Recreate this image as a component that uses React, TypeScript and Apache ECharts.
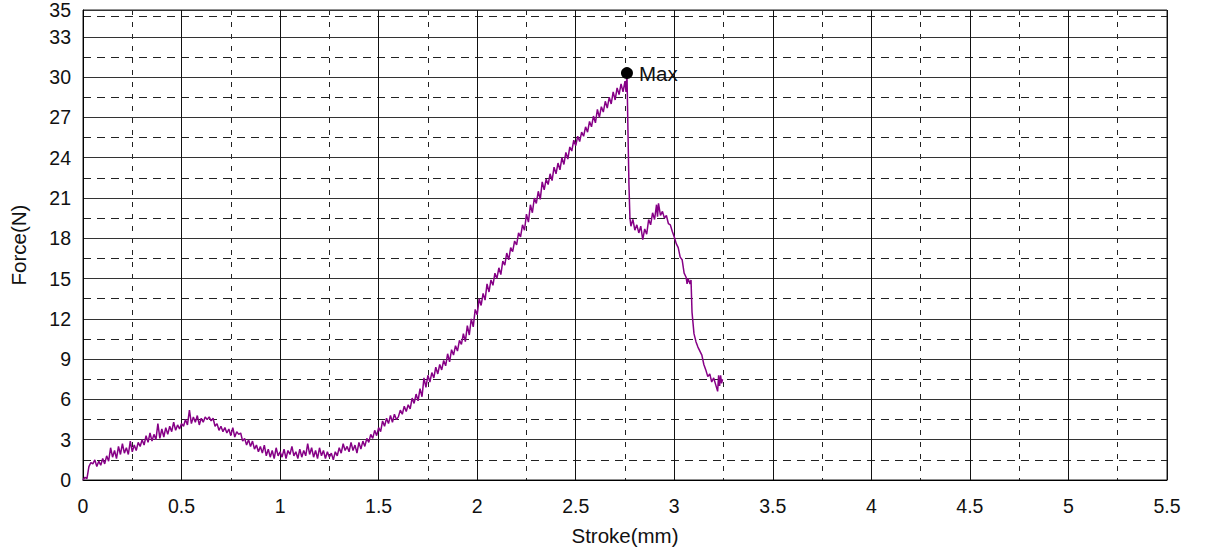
import React, { useEffect, useRef } from "react";
import * as echarts from "echarts";

const strokeMm = [
  0, 0.01, 0.02, 0.03, 0.04, 0.05, 0.06, 0.07, 0.08, 0.09,
  0.1, 0.11, 0.12, 0.13, 0.14, 0.15, 0.16, 0.17, 0.18, 0.19,
  0.2, 0.21, 0.22, 0.23, 0.24, 0.25, 0.26, 0.27, 0.28, 0.29,
  0.3, 0.31, 0.32, 0.33, 0.34, 0.35, 0.36, 0.37, 0.38, 0.39,
  0.4, 0.41, 0.42, 0.43, 0.44, 0.45, 0.46, 0.47, 0.48, 0.49,
  0.5, 0.51, 0.52, 0.53, 0.54, 0.55, 0.56, 0.57, 0.58, 0.59,
  0.6, 0.61, 0.62, 0.63, 0.64, 0.65, 0.66, 0.67, 0.68, 0.69,
  0.7, 0.71, 0.72, 0.73, 0.74, 0.75, 0.76, 0.77, 0.78, 0.79,
  0.8, 0.81, 0.82, 0.83, 0.84, 0.85, 0.86, 0.87, 0.88, 0.89,
  0.9, 0.91, 0.92, 0.93, 0.94, 0.95, 0.96, 0.97, 0.98, 0.99,
  1.0, 1.01, 1.02, 1.03, 1.04, 1.05, 1.06, 1.07, 1.08, 1.09,
  1.1, 1.11, 1.12, 1.13, 1.14, 1.15, 1.16, 1.17, 1.18, 1.19,
  1.2, 1.21, 1.22, 1.23, 1.24, 1.25, 1.26, 1.27, 1.28, 1.29,
  1.3, 1.31, 1.32, 1.33, 1.34, 1.35, 1.36, 1.37, 1.38, 1.39,
  1.4, 1.41, 1.42, 1.43, 1.44, 1.45, 1.46, 1.47, 1.48, 1.49,
  1.5, 1.51, 1.52, 1.53, 1.54, 1.55, 1.56, 1.57, 1.58, 1.59,
  1.6, 1.61, 1.62, 1.63, 1.64, 1.65, 1.66, 1.67, 1.68, 1.69,
  1.7, 1.71, 1.72, 1.73, 1.74, 1.75, 1.76, 1.77, 1.78, 1.79,
  1.8, 1.81, 1.82, 1.83, 1.84, 1.85, 1.86, 1.87, 1.88, 1.89,
  1.9, 1.91, 1.92, 1.93, 1.94, 1.95, 1.96, 1.97, 1.98, 1.99,
  2.0, 2.01, 2.02, 2.03, 2.04, 2.05, 2.06, 2.07, 2.08, 2.09,
  2.1, 2.11, 2.12, 2.13, 2.14, 2.15, 2.16, 2.17, 2.18, 2.19,
  2.2, 2.21, 2.22, 2.23, 2.24, 2.25, 2.26, 2.27, 2.28, 2.29,
  2.3, 2.31, 2.32, 2.33, 2.34, 2.35, 2.36, 2.37, 2.38, 2.39,
  2.4, 2.41, 2.42, 2.43, 2.44, 2.45, 2.46, 2.47, 2.48, 2.49,
  2.5, 2.51, 2.52, 2.53, 2.54, 2.55, 2.56, 2.57, 2.58, 2.59,
  2.6, 2.61, 2.62, 2.63, 2.64, 2.65, 2.66, 2.67, 2.68, 2.69,
  2.7, 2.71, 2.72, 2.73, 2.74, 2.75, 2.755, 2.76,
  2.765, 2.77, 2.775, 2.78, 2.79, 2.8, 2.81, 2.82, 2.83, 2.84,
  2.85, 2.86, 2.87, 2.88, 2.89, 2.9, 2.91, 2.915, 2.92, 2.93,
  2.94, 2.95, 2.96, 2.97, 2.98, 2.99, 3.0, 3.01, 3.02, 3.03,
  3.04, 3.05, 3.06, 3.065, 3.07, 3.08, 3.085, 3.09, 3.1, 3.11,
  3.12, 3.13, 3.14, 3.15, 3.16, 3.17, 3.18, 3.19, 3.2, 3.21,
  3.22, 3.225, 3.23, 3.235, 3.24, 3.245,
];

const forceN = [
  0, 0.2, 0.1, 1.0, 1.3, 1.2, 1.5, 1.0, 1.4, 1.1,
  1.6, 1.2, 1.8, 1.4, 2.4, 1.7, 2.2, 1.6, 2.5, 1.9,
  2.7, 2.0, 2.4, 1.9, 2.9, 2.1, 2.6, 2.2, 2.8, 2.5,
  3.0, 2.6, 3.3, 2.8, 3.5, 2.9, 3.4, 3.0, 4.2, 3.1,
  3.8, 3.2, 3.9, 3.4, 4.0, 3.6, 4.3, 3.7, 4.1, 3.8,
  4.2, 4.0, 4.5, 4.1, 5.2, 4.2, 4.7, 4.3, 4.8, 4.1,
  4.6, 4.3, 4.7, 4.5, 4.7, 4.4, 4.6, 4.0, 4.2, 3.7,
  4.0, 3.6, 3.9, 3.5, 3.8, 3.3, 3.9, 3.2, 3.6, 3.4,
  3.5, 2.9, 3.1, 2.6, 3.0, 2.5, 2.9, 2.3, 2.6, 2.1,
  2.5, 2.0, 2.6, 1.8, 2.3, 1.7, 2.2, 1.6, 2.4, 1.8,
  2.1, 1.7, 2.3, 1.6, 2.2, 1.9, 2.5, 1.8, 2.1, 1.6,
  2.3, 1.7, 2.2, 1.8, 2.7, 1.9, 2.4, 1.7, 2.2, 1.6,
  2.4, 1.8, 2.2, 1.6, 2.1, 1.7, 2.0, 1.5, 2.1, 1.8,
  2.4, 2.0, 2.7, 2.2, 2.5, 2.1, 2.8, 2.2, 2.6, 2.0,
  2.8, 2.3, 2.9, 2.5, 3.1, 2.8, 3.4, 3.1, 3.7, 3.3,
  3.9, 3.6, 4.4, 4.0, 4.6, 4.2, 4.8, 4.3, 4.9, 4.5,
  4.7, 5.2, 4.9, 5.5, 5.1, 5.6, 5.3, 6.1, 5.7, 6.4,
  5.9, 6.8, 6.2, 7.6, 6.9, 7.8, 7.3, 8.0, 7.6, 8.4,
  7.9, 8.6, 8.2, 8.9, 8.5, 9.4, 8.8, 9.7, 9.3, 10.0,
  9.6, 10.4, 10.1, 10.9, 10.3, 11.5, 10.8, 12.0, 11.4, 12.7,
  12.3, 13.5, 13.0, 13.9, 13.4, 14.6, 14.0, 14.9, 14.5, 15.4,
  15.0, 15.8, 15.3, 16.3, 16.0, 16.9, 16.4, 17.3, 17.0, 17.8,
  17.5, 18.4, 18.1, 19.0, 18.6, 19.8, 19.2, 20.5, 19.9, 21.0,
  20.6, 21.5, 20.9, 22.2, 21.6, 22.4, 22.0, 22.8, 22.3, 23.3,
  22.8, 23.6, 23.1, 24.0, 23.5, 24.4, 23.9, 24.8, 24.5, 25.3,
  24.9, 25.6, 25.2, 25.9, 25.6, 26.3, 25.9, 26.7, 26.3, 27.1,
  26.6, 27.6, 27.0, 27.8, 27.4, 28.2, 27.7, 28.5, 28.0, 28.9,
  28.3, 29.2, 28.7, 29.5, 28.9, 29.7, 28.9, 30.3,
  26.0, 22.0, 19.5, 18.9, 19.4, 18.6, 19.0, 18.4, 18.9, 17.9,
  18.7, 18.3, 19.4, 19.0, 19.9, 19.4, 20.5, 19.6, 20.6, 19.7,
  20.0, 19.5, 19.7, 19.1, 19.0, 18.5, 18.1, 17.6, 17.3, 16.6,
  16.4, 15.4, 15.1, 14.6, 15.0, 14.6, 14.9, 12.5, 10.9, 10.3,
  9.9, 9.6, 9.3, 8.6, 8.2, 7.7, 7.9, 7.3, 7.6, 7.1,
  6.6, 7.8, 7.0, 7.8, 7.2, 7.5,
];

const maxPoint = [2.76, 30.3];
const maxLabel = "Max";
const xName = "Stroke(mm)";
const yName = "Force(N)";

export default function App() {
  const ref = useRef<HTMLDivElement>(null);
  useEffect(() => {
    if (!ref.current) return;
    const chart = echarts.init(ref.current, undefined, { renderer: "svg" });
    const font = "'Liberation Sans', Arial, sans-serif";
    const data = strokeMm.map((x, i) => [x, forceN[i]]);
    chart.setOption({
      animation: false,
      backgroundColor: "#ffffff",
      textStyle: { fontFamily: font },
      grid: {
        left: 82,
        right: 44,
        top: 7,
        bottom: 79,
        show: true,
        borderColor: "#222",
        borderWidth: 1,
      },
      xAxis: [
        {
          type: "value",
          min: 0,
          max: 5.5,
          interval: 0.5,
          name: xName,
          nameLocation: "middle",
          nameGap: 45,
          nameTextStyle: { fontSize: 20.5, color: "#111", fontFamily: font },
          axisLine: { show: true, lineStyle: { color: "#000", width: 1 } },
          axisTick: { show: false },
          axisLabel: {
            fontSize: 19.5,
            color: "#111",
            margin: 16,
            fontFamily: font,
          },
          splitLine: { show: true, lineStyle: { color: "#111", width: 1, type: "solid" } },
          z: 3,
        },
        {
          type: "value",
          min: 0,
          max: 5.5,
          interval: 0.25,
          position: "top",
          axisLine: { show: false },
          axisTick: { show: false },
          axisLabel: { show: false },
          splitLine: { show: true, lineStyle: { color: "#222", width: 1, type: [5, 7] } },
        },
      ],
      yAxis: [
        {
          type: "value",
          min: 0,
          max: 35,
          interval: 3,
          name: yName,
          nameLocation: "middle",
          nameGap: 54,
          nameRotate: 90,
          nameTextStyle: { fontSize: 20.5, color: "#111", fontFamily: font },
          axisLine: { show: true, lineStyle: { color: "#000", width: 1 } },
          axisTick: { show: false },
          axisLabel: {
            fontSize: 19.5,
            color: "#111",
            margin: 12,
            fontFamily: font,
          },
          splitLine: { show: true, lineStyle: { color: "#333", width: 1, type: "solid" } },
          z: 3,
        },
        {
          type: "value",
          min: 0,
          max: 35,
          interval: 1.5,
          position: "right",
          axisLine: { show: false },
          axisTick: { show: false },
          axisLabel: { show: false },
          splitLine: { show: true, lineStyle: { color: "#222", width: 1, type: [8, 6] } },
        },
      ],
      series: [
        {
          type: "line",
          xAxisIndex: 0,
          yAxisIndex: 0,
          data,
          showSymbol: false,
          symbol: "none",
          lineStyle: { color: "#860086", width: 1.5 },
          z: 5,
        },
        {
          type: "scatter",
          xAxisIndex: 0,
          yAxisIndex: 0,
          data: [maxPoint],
          symbol: "circle",
          symbolSize: 12,
          itemStyle: { color: "#000", opacity: 1 },
          label: {
            show: true,
            position: "right",
            distance: 6,
            formatter: maxLabel,
            fontSize: 20.5,
            color: "#111",
            opacity: 1,
            fontFamily: font,
          },
          emphasis: { disabled: true },
          z: 6,
        },
      ],
    });
    return () => chart.dispose();
  }, []);
  return (
    <div
      ref={ref}
      style={{ position: "fixed", left: 0, top: 0, width: 1211, height: 559 }}
    />
  );
}
